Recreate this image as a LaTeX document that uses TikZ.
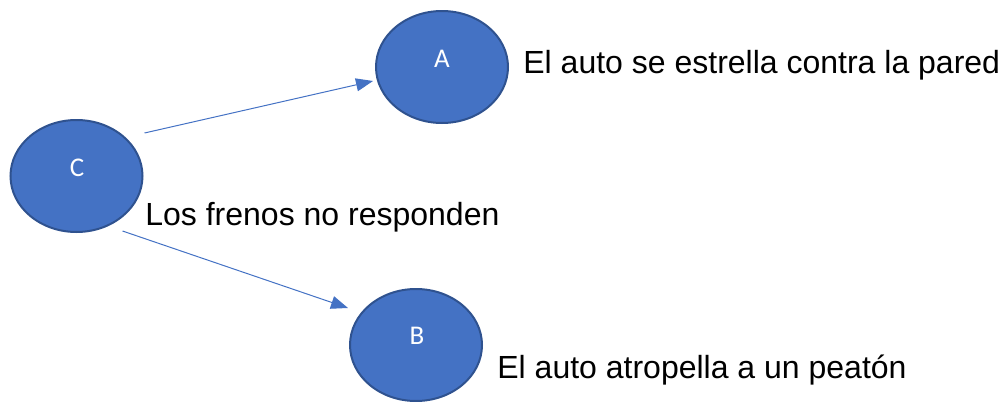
\documentclass[tikz,border=0pt]{standalone}
\usepackage{fontspec}
\setmainfont{Liberation Sans}
\newfontfamily\letterfont{Carlito}
\usetikzlibrary{shapes.geometric,arrows.meta}
\definecolor{eventblue}{HTML}{4472C4}
\definecolor{eventedge}{HTML}{2F528F}
\begin{document}
\begin{tikzpicture}[x=0.5pt,y=-0.5pt,
  event/.style={ellipse,draw=eventedge,fill=eventblue,line width=1pt,
    minimum width=66pt,minimum height=56pt,inner sep=0pt},
  letter/.style={text=white,inner sep=0pt,font=\letterfont\fontsize{13.5}{16}\selectfont},
  caption/.style={anchor=base west,inner sep=0pt,font=\fontsize{16}{19}\selectfont},
  link/.style={eventblue,line width=0.5pt,-{Triangle[length=8.5pt,width=6.5pt]}}]
\useasboundingbox (0,0) rectangle (1003,402);
\node[event] (C) at (76.5,176) {};
\node[event] (A) at (442,67) {};
\node[event] (B) at (416,345) {};
\node[letter] (lC) at (77,168) {C};
\node[letter] (lA) at (442,59) {A};
\node[letter] (lB) at (417,336) {B};
\node[caption] (tC) at (145,225) {Los frenos no responden};
\node[caption] (tA) at (523,73) {El auto se estrella contra la pared};
\node[caption] (tB) at (497,378) {El auto atropella a un peatón};
\draw[link] ([shift={(1,-43)}]C.east) -- ([shift={(-2,14)}]A.west);
\draw[link] ([shift={(46,-2)}]C.south) -- ([shift={(-1,-37)}]B.west);
\end{tikzpicture}
\end{document}
